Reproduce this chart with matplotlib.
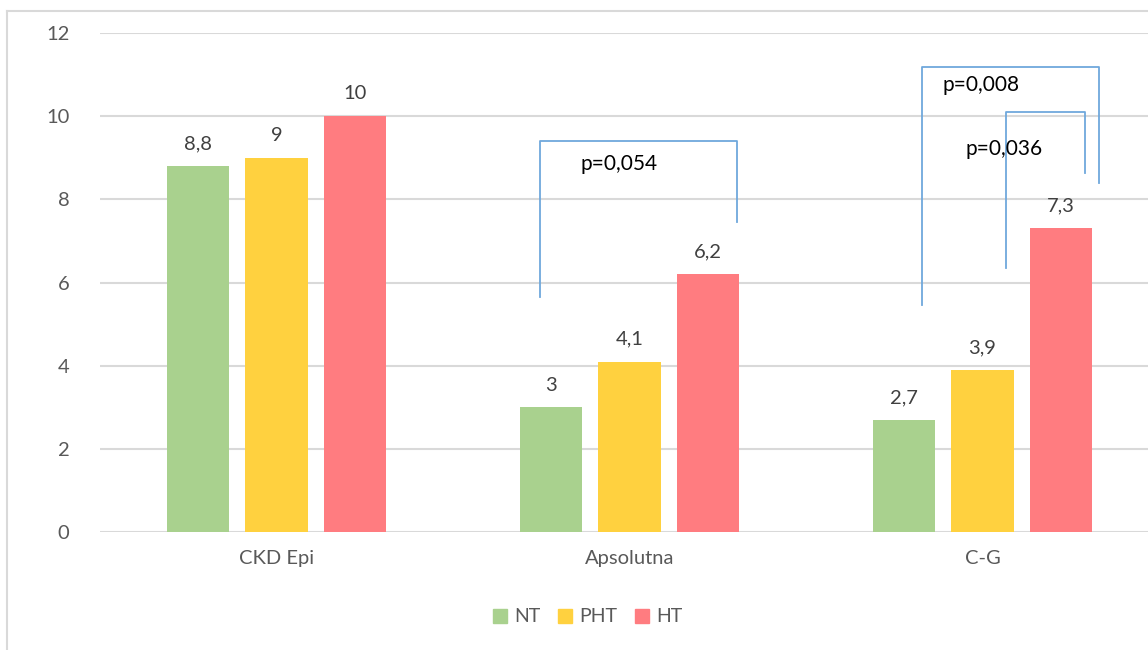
import numpy as np
import matplotlib.pyplot as plt
from matplotlib.patches import Patch
from matplotlib.lines import Line2D

plt.rcParams['font.family'] = ['Lato', 'DejaVu Sans']

categories = ['CKD Epi', 'Apsolutna', 'C-G']
series = ['NT', 'PHT', 'HT']
nt = [8.8, 3, 2.7]
pht = [9, 4.1, 3.9]
ht = [10, 6.2, 7.3]
labels_nt = ['8,8', '3', '2,7']
labels_pht = ['9', '4,1', '3,9']
labels_ht = ['10', '6,2', '7,3']
colors = ['#A9D18E', '#FFD13F', '#FF7C80']

# significance brackets: x left, x right, y top, y bottom left, y bottom right, label, label pos
brackets = [
    (0.746, 1.305, 9.40, 5.65, 7.45, 'p=0,054', 0.97, 8.85),
    (1.829, 2.330, 11.18, 5.46, 8.39, 'p=0,008', 1.995, 10.75),
    (2.067, 2.290, 10.10, 6.35, 8.63, 'p=0,036', 2.061, 9.22),
]

fig = plt.figure(figsize=(11.48, 6.5), dpi=100)
ax = fig.add_axes([100/1148, 118/650, 1059/1148, 499/650])

x = np.arange(len(categories))
w = 0.176
step = 0.222
for i, (vals, labs) in enumerate(zip([nt, pht, ht], [labels_nt, labels_pht, labels_ht])):
    pos = x + (i - 1) * step
    ax.bar(pos, vals, width=w, color=colors[i], zorder=2)
    for p, v, l in zip(pos, vals, labs):
        ax.text(p, v + 0.33, l, ha='center', va='bottom', fontsize=14.5, color='#404040')

for xl, xr, yt, ybl, ybr, txt, tx, ty in brackets:
    ax.plot([xl, xl, xr, xr], [ybl, yt, yt, ybr], color='#6FA8DC', lw=1.3, zorder=3,
            clip_on=False)
    ax.text(tx, ty, txt, ha='center', va='center', fontsize=15, color='black')

ax.set_xlim(-0.5, 2.5)
ax.set_ylim(0, 12)
ax.set_yticks(np.arange(0, 13, 2))
ax.set_xticks(x)
ax.set_xticklabels(categories)
ax.tick_params(length=0, labelsize=14.5, labelcolor='#595959')
ax.tick_params(axis='y', pad=22)
ax.tick_params(axis='x', pad=13)
ax.grid(axis='y', color='#D9D9D9', lw=1.5, zorder=0)
for s in ax.spines.values():
    s.set_visible(False)

# outer chart frame
fig.add_artist(Line2D([7/1148, 7/1148], [0, 1 - 11/650], color='#D9D9D9', lw=1.5))
fig.add_artist(Line2D([7/1148, 1], [1 - 11/650, 1 - 11/650], color='#D9D9D9', lw=1.5))

handles = [Patch(color=c, label=s) for c, s in zip(colors, series)]
fig.legend(handles=handles, loc='center', bbox_to_anchor=(588/1148, 1 - 617/650), ncol=3,
           frameon=False, fontsize=14, handlelength=0.7, handleheight=0.7,
           handletextpad=0.4, columnspacing=0.9, labelcolor='#595959')

fig.savefig('out.png', dpi=100)
